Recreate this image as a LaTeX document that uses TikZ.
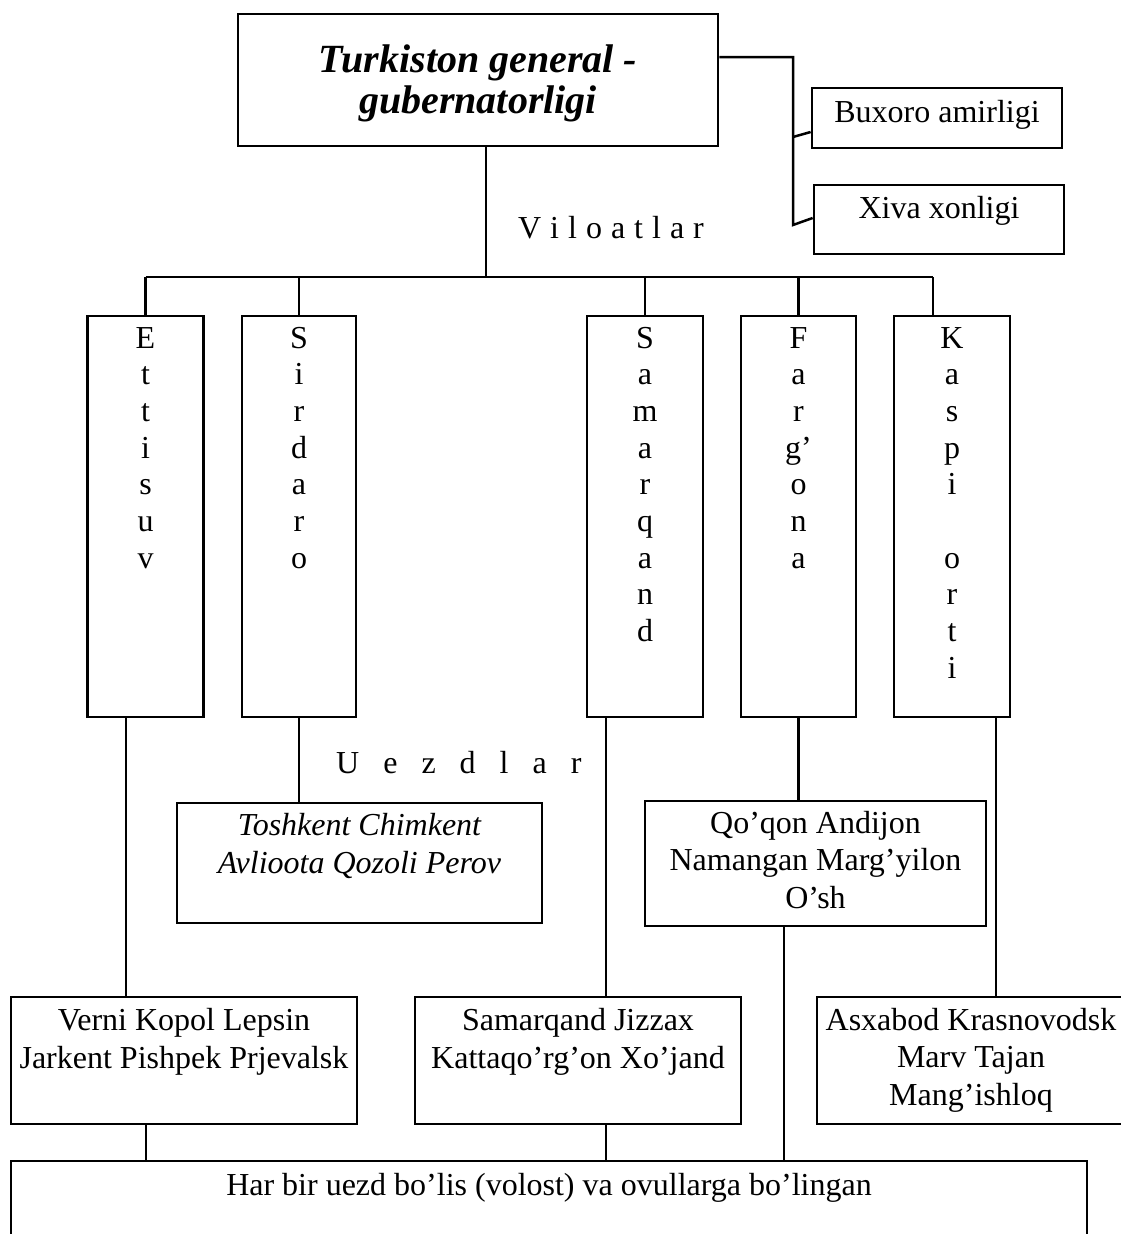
\documentclass[tikz,border=0pt]{standalone}
\usepackage{fontspec}
\setmainfont{Liberation Serif}
\tikzset{
  box/.style={draw, line width=2.8pt, rectangle, inner sep=0pt},
  conn/.style={line width=2.5pt},
  txt/.style={font=\fontsize{32pt}{38pt}\selectfont, align=center, inner sep=0pt, anchor=base},
  vtxt/.style={font=\fontsize{32pt}{36.7pt}\selectfont, align=center, inner sep=0pt, anchor=base},
}
\begin{document}
\begin{tikzpicture}[x=1pt, y=-1pt]
\useasboundingbox (0,0) rectangle (1121,1234);
% boxes
\node[box, minimum width=480pt, minimum height=132pt] (title) at (478,80) {};
\node[box, minimum width=250pt, minimum height=60pt] (buxoro) at (937,118) {};
\node[box, minimum width=250pt, minimum height=69pt] (xiva) at (939,219.5) {};
\node[box, minimum width=116pt, minimum height=401pt] (ettisuv) at (145.5,516.5) {};
\node[box, minimum width=114pt, minimum height=401pt] (sirdaro) at (299,516.5) {};
\node[box, minimum width=116pt, minimum height=401pt] (samarqand) at (645,516.5) {};
\node[box, minimum width=115pt, minimum height=401pt] (fargona) at (798.5,516.5) {};
\node[box, minimum width=116pt, minimum height=401pt] (kaspi) at (952,516.5) {};
\node[box, minimum width=365pt, minimum height=120pt] (toshkent) at (359.5,863) {};
\node[box, minimum width=341pt, minimum height=125pt] (qoqon) at (815.5,863.5) {};
\node[box, minimum width=346pt, minimum height=127pt] (verni) at (184,1060.5) {};
\node[box, minimum width=326pt, minimum height=127pt] (samq) at (578,1060.5) {};
\node[box, minimum width=308pt, minimum height=127pt] (asxabod) at (971,1060.5) {};
\node[box, minimum width=1076pt, minimum height=130pt] (bottom) at (549,1226) {};
% texts (anchor base = baseline of the last line)
\node[txt, font=\fontsize{40pt}{41pt}\selectfont\bfseries\itshape] (titletext) at (478,113) {Turkiston general -\\gubernatorligi};
\node[txt] (buxorotext) at (937,122) {Buxoro amirligi};
\node[txt] (xivatext) at (939,218) {Xiva xonligi};
\node[txt] (viloatlar) at (611,238) {V\hspace{9pt}i\hspace{9pt}l\hspace{9pt}o\hspace{9pt}a\hspace{9pt}t\hspace{9pt}l\hspace{9pt}a\hspace{9pt}r};
\node[txt, anchor=base west] (uezdlar) at (336,773) {U\hspace{24pt}e\hspace{24pt}z\hspace{24pt}d\hspace{24pt}l\hspace{24pt}a\hspace{24pt}r};
\node[vtxt] (ettisuvtext) at (145.5,568.2) {E\\t\\t\\i\\s\\u\\v};
\node[vtxt] (sirdarotext) at (299,568.2) {S\\i\\r\\d\\a\\r\\o};
\node[vtxt] (samarqandtext) at (645,641.6) {S\\a\\m\\a\\r\\q\\a\\n\\d};
\node[vtxt] (fargonatext) at (798.5,568.2) {F\\a\\r\\g’\\o\\n\\a};
\node[vtxt] (kaspitext) at (952,678.3) {K\\a\\s\\p\\i\\\mbox{}\\o\\r\\t\\i};
\node[txt, font=\fontsize{32pt}{38pt}\selectfont\itshape] (toshkenttext) at (359.5,873) {Toshkent Chimkent\\Avlioota Qozoli Perov};
\node[txt, font=\fontsize{32pt}{37.5pt}\selectfont] (qoqontext) at (815.5,908) {Qo’qon Andijon\\Namangan Marg’yilon\\O’sh};
\node[txt] (vernitext) at (184,1068) {Verni Kopol Lepsin\\Jarkent Pishpek Prjevalsk};
\node[txt] (samqtext) at (578,1068) {Samarqand Jizzax\\Kattaqo’rg’on Xo’jand};
\node[txt, font=\fontsize{32pt}{37.5pt}\selectfont] (asxabodtext) at (971,1105) {Asxabod Krasnovodsk\\Marv Tajan\\Mang’ishloq};
\node[txt] (bottomtext) at (549,1195) {Har bir uezd bo’lis (volost) va ovullarga bo’lingan};
% connectors top right
\coordinate (rj) at (793,57);
\coordinate (rm) at (793,137);
\coordinate (rb) at (793,225);
\draw[conn] ([yshift=23pt]title.east) -- (rj) -- (rb) -- ([yshift=1.5pt]xiva.west);
\draw[conn] (rm) -- ([yshift=-14pt]buxoro.west);
% bus
\coordinate (busL) at (145.5,277);
\coordinate (busR) at (933,277);
\draw[conn] (busL) -- (busR);
\draw[conn] ([xshift=8pt]title.south) -- ([xshift=8pt]title.south |- busL);
\draw[conn] (busL) -- (ettisuv.north);
\draw[conn] (sirdaro.north |- busL) -- (sirdaro.north);
\draw[conn] (samarqand.north |- busL) -- (samarqand.north);
\draw[conn] (fargona.north |- busL) -- (fargona.north);
\draw[conn] (busR) -- (busR |- kaspi.north);
% uezd connectors
\draw[conn] ([xshift=-19.5pt]ettisuv.south) -- ([xshift=-19.5pt]ettisuv.south |- verni.north);
\draw[conn] (sirdaro.south) -- (sirdaro.south |- toshkent.north);
\draw[conn] ([xshift=-39pt]samarqand.south) -- ([xshift=-39pt]samarqand.south |- samq.north);
\draw[conn] (fargona.south) -- (fargona.south |- qoqon.north);
\draw[conn] ([xshift=44pt]kaspi.south) -- ([xshift=44pt]kaspi.south |- asxabod.north);
% to bottom
\draw[conn] ([xshift=-38pt]verni.south) -- ([xshift=-38pt]verni.south |- bottom.north);
\draw[conn] ([xshift=28pt]samq.south) -- ([xshift=28pt]samq.south |- bottom.north);
\draw[conn] ([xshift=-31.5pt]qoqon.south) -- ([xshift=-31.5pt]qoqon.south |- bottom.north);
\end{tikzpicture}
\end{document}
